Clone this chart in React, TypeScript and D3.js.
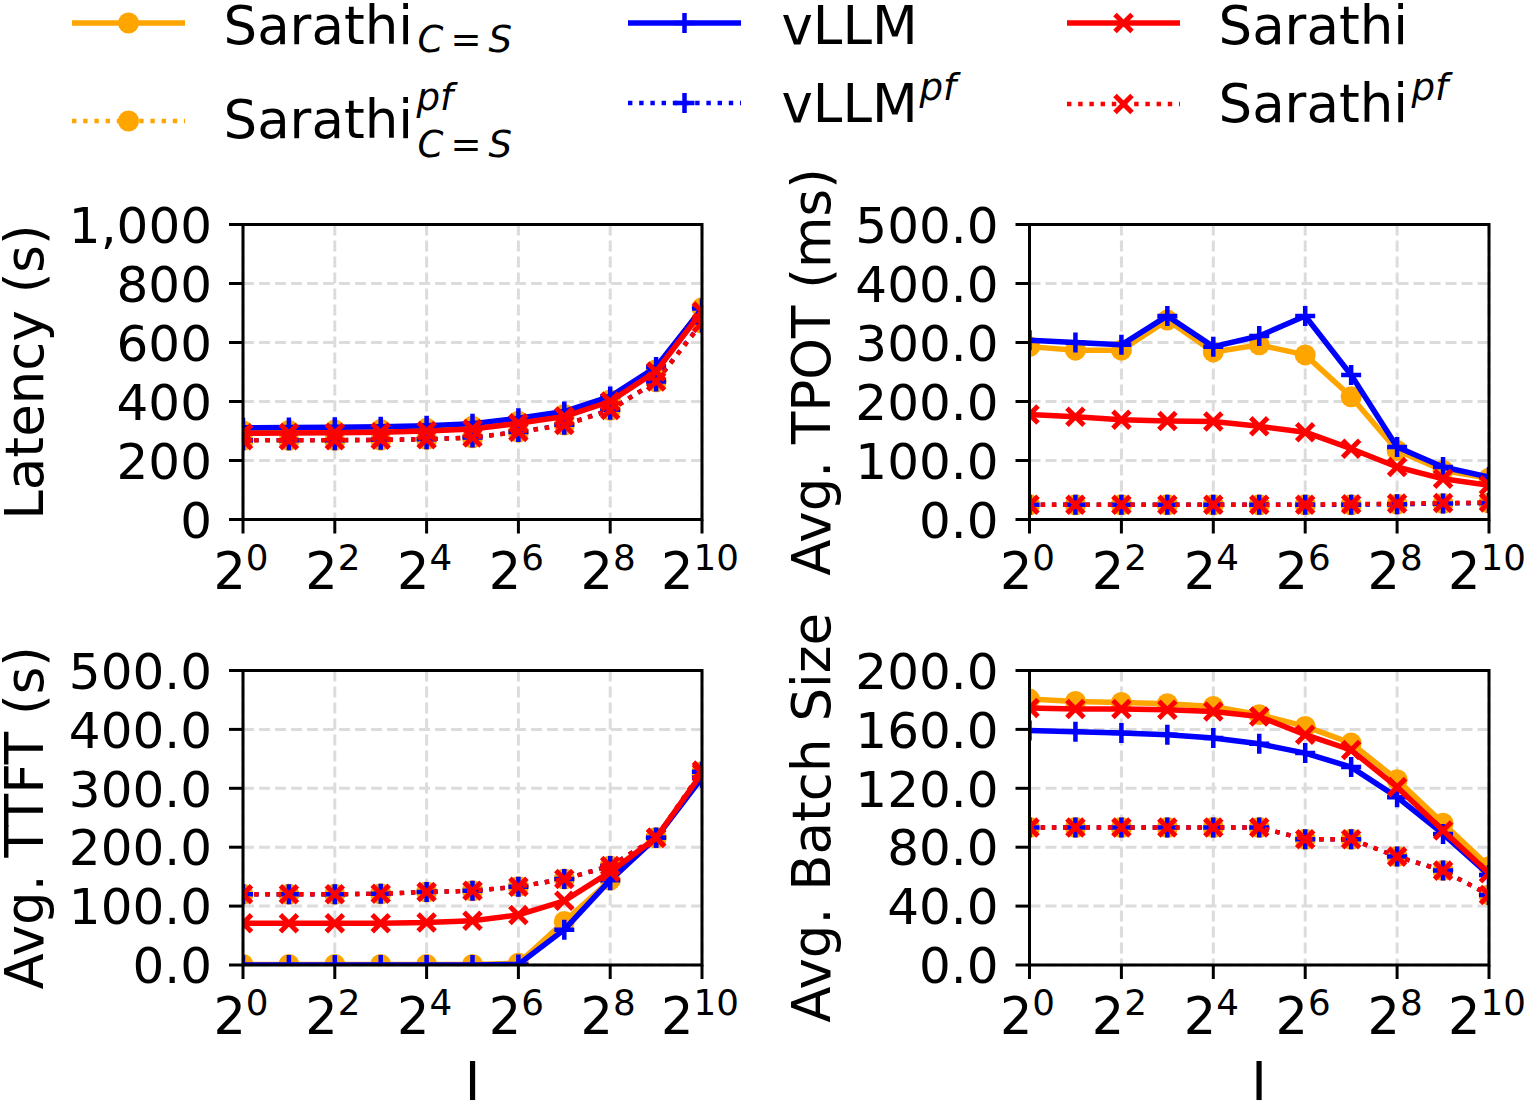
import React from 'react';
import * as d3 from 'd3';

// ---------- DATA ----------
const exponents = [0, 1, 2, 3, 4, 5, 6, 7, 8, 9, 10];
const xValues = exponents.map((e) => Math.pow(2, e));
const xTickExponents = [0, 2, 4, 6, 8, 10];

// Latency (s)
const latSarathiCS = [300, 302, 303, 305, 309, 316, 333, 356, 405, 508, 718];
const latSarathiCSpf = [268, 268, 268, 269, 271, 277, 296, 320, 370, 467, 665];
const latVllm = [311, 312, 313, 314, 318, 325, 343, 366, 417, 517, 715];
const latVllmPf = [269, 269, 269, 270, 272, 278, 297, 321, 372, 468, 668];
const latSarathi = [292, 293, 294, 296, 300, 307, 326, 349, 400, 502, 705];
const latSarathiPf = [269, 269, 269, 270, 272, 278, 297, 320, 371, 468, 666];

// Avg. TPOT (ms)
const tpotSarathiCS = [293, 287, 287, 338, 284, 296, 279, 208, 117, 83, 70];
const tpotSarathiCSpf = [25, 25, 25, 25, 25, 25, 25, 25, 26, 27, 28];
const tpotVllm = [304, 300, 296, 345, 293, 311, 345, 245, 123, 89, 72];
const tpotVllmPf = [25, 25, 25, 25, 25, 25, 25, 25, 26, 27, 28];
const tpotSarathi = [178, 174, 169, 167, 166, 158, 148, 120, 89, 69, 58];
const tpotSarathiPf = [25, 25, 25, 25, 25, 25, 25, 26, 27, 28, 29];

// Avg. TTFT (s)
const ttftSarathiCS = [1, 1, 1, 1, 1, 1, 3, 74, 144, 216, 322];
const ttftSarathiCSpf = [120, 120, 120, 121, 124, 126, 133, 146, 168, 216, 328];
const ttftVllm = [0, 0, 0, 0, 0, 0, 1, 60, 144, 216, 318];
const ttftVllmPf = [120, 120, 120, 121, 124, 126, 133, 146, 168, 216, 328];
const ttftSarathi = [71, 71, 71, 71, 72, 75, 85, 109, 158, 216, 326];
const ttftSarathiPf = [120, 120, 120, 121, 124, 126, 133, 146, 168, 216, 330];

// Avg. Batch Size
const bsSarathiCS = [180.6, 179, 178.3, 177.4, 175.6, 170, 162, 150.7, 125.8, 96.3, 66.8];
const bsSarathiCSpf = [93.4, 93.4, 93.4, 93.4, 93.4, 93.4, 85.4, 85.4, 73.6, 64.1, 47.6];
const bsVllm = [159.3, 158.4, 157.5, 156.4, 154.1, 150.2, 143.9, 134.4, 114, 89, 61.2];
const bsVllmPf = [93.4, 93.4, 93.4, 93.4, 93.4, 93.4, 85.4, 85.4, 73.6, 64.1, 47.6];
const bsSarathi = [174.5, 173.8, 173.8, 173.4, 172.2, 168.8, 156.4, 146, 120.8, 91.3, 62.3];
const bsSarathiPf = [93.4, 93.4, 93.4, 93.4, 93.4, 93.4, 85.4, 85.4, 73.6, 64.1, 47.6];

const yLabels = ['Latency (s)', 'Avg. TPOT (ms)', 'Avg. TTFT (s)', 'Avg. Batch Size'];
const yTicksLatency = [0, 200, 400, 600, 800, 1000];
const yTicksTpot = [0, 100, 200, 300, 400, 500];
const yTicksTtft = [0, 100, 200, 300, 400, 500];
const yTicksBatch = [0, 40, 80, 120, 160, 200];
const xLabel = 'I';

// ---------- STYLES ----------
const FONT = '"DejaVu Sans", sans-serif';
const ORANGE = '#FFA500';
const BLUE = '#0000FF';
const RED = '#FF0000';

type Marker = 'o' | '+' | 'x';
const seriesStyles: { color: string; dotted: boolean; marker: Marker }[] = [
  { color: ORANGE, dotted: false, marker: 'o' },
  { color: ORANGE, dotted: true, marker: 'o' },
  { color: BLUE, dotted: false, marker: '+' },
  { color: BLUE, dotted: true, marker: '+' },
  { color: RED, dotted: false, marker: 'x' },
  { color: RED, dotted: true, marker: 'x' },
];

const panels = [
  {
    left: 243, right: 702, top: 224.5, bottom: 519.5, ymax: 1000, ticks: yTicksLatency,
    fmt: d3.format(','), label: yLabels[0], labelX: 43,
    series: [latSarathiCS, latSarathiCSpf, latVllm, latVllmPf, latSarathi, latSarathiPf],
  },
  {
    left: 1029.5, right: 1489, top: 224.5, bottom: 519.5, ymax: 500, ticks: yTicksTpot,
    fmt: d3.format('.1f'), label: yLabels[1], labelX: 830,
    series: [tpotSarathiCS, tpotSarathiCSpf, tpotVllm, tpotVllmPf, tpotSarathi, tpotSarathiPf],
  },
  {
    left: 243, right: 702, top: 670.5, bottom: 965, ymax: 500, ticks: yTicksTtft,
    fmt: d3.format('.1f'), label: yLabels[2], labelX: 43,
    series: [ttftSarathiCS, ttftSarathiCSpf, ttftVllm, ttftVllmPf, ttftSarathi, ttftSarathiPf],
  },
  {
    left: 1029.5, right: 1489, top: 670.5, bottom: 965, ymax: 200, ticks: yTicksBatch,
    fmt: d3.format('.1f'), label: yLabels[3], labelX: 830,
    series: [bsSarathiCS, bsSarathiCSpf, bsVllm, bsVllmPf, bsSarathi, bsSarathiPf],
  },
];

function MarkerShape({ m, color, x, y }: { m: Marker; color: string; x: number; y: number }) {
  if (m === 'o') return <circle cx={x} cy={y} r={10.5} fill={color} />;
  if (m === '+')
    return <path d={`M${x - 10},${y}H${x + 10}M${x},${y - 10}V${y + 10}`} stroke={color} strokeWidth={4.5} fill="none" />;
  return (
    <path
      d={`M${x - 8.5},${y - 8.5}L${x + 8.5},${y + 8.5}M${x - 8.5},${y + 8.5}L${x + 8.5},${y - 8.5}`}
      stroke={color}
      strokeWidth={5}
      fill="none"
    />
  );
}

const SOLID_W = 5.5;
const DOT_W = 4.4;
const DOT_DASH = '4.4,6.8';

function Panel({ p, idx }: { p: (typeof panels)[number]; idx: number }) {
  const x = d3.scaleLog().base(2).domain([1, 1024]).range([p.left, p.right]);
  const y = d3.scaleLinear().domain([0, p.ymax]).range([p.bottom, p.top]);
  const line = d3
    .line<number>()
    .x((_, i) => x(xValues[i]))
    .y((d) => y(d));
  const clipId = `clip${idx}`;
  const yTickFs = 50;
  const xTickFs = 51;
  return (
    <g>
      <defs>
        <clipPath id={clipId}>
          <rect x={p.left} y={p.top} width={p.right - p.left} height={p.bottom - p.top} />
        </clipPath>
      </defs>
      {/* grid */}
      {xTickExponents.map((e) => (
        <line key={'gx' + e} x1={x(2 ** e)} x2={x(2 ** e)} y1={p.top} y2={p.bottom}
          stroke="#dcdcdc" strokeWidth={3} strokeDasharray="11,5" />
      ))}
      {p.ticks.map((t) => (
        <line key={'gy' + t} x1={p.left} x2={p.right} y1={y(t)} y2={y(t)}
          stroke="#dcdcdc" strokeWidth={3} strokeDasharray="11,5" />
      ))}
      {/* series */}
      <g clipPath={`url(#${clipId})`}>
        {p.series.map((s, si) => {
          const st = seriesStyles[si];
          return (
            <g key={si}>
              <path d={line(s) || ''} fill="none" stroke={st.color}
                strokeWidth={st.dotted ? DOT_W : SOLID_W}
                strokeDasharray={st.dotted ? DOT_DASH : undefined}
                strokeLinejoin="round" />
              {s.map((v, i) => (
                <MarkerShape key={i} m={st.marker} color={st.color} x={x(xValues[i])} y={y(v)} />
              ))}
            </g>
          );
        })}
      </g>
      {/* spines */}
      <rect x={p.left} y={p.top} width={p.right - p.left} height={p.bottom - p.top}
        fill="none" stroke="#000" strokeWidth={3} />
      {/* y ticks */}
      {p.ticks.map((t) => (
        <g key={'ty' + t}>
          <line x1={p.left - 14} x2={p.left} y1={y(t)} y2={y(t)} stroke="#000" strokeWidth={3} />
          <text x={p.left - 31} y={y(t) + 0.364 * yTickFs} textAnchor="end" fontSize={yTickFs} fontFamily={FONT}>
            {p.fmt(t)}
          </text>
        </g>
      ))}
      {/* x ticks */}
      {xTickExponents.map((e) => (
        <g key={'tx' + e}>
          <line x1={x(2 ** e)} x2={x(2 ** e)} y1={p.bottom} y2={p.bottom + 14} stroke="#000" strokeWidth={3} />
          <text x={x(2 ** e) - 2} y={p.bottom + 69} textAnchor="middle" fontSize={xTickFs} fontFamily={FONT}>
            2<tspan fontSize={xTickFs * 0.7} dy={-19}>{e}</tspan>
          </text>
        </g>
      ))}
      {/* y label */}
      <text transform={`translate(${p.labelX},${(p.top + p.bottom) / 2}) rotate(-90)`} textAnchor="middle"
        fontSize={53} fontFamily={FONT}>
        {p.label}
      </text>
    </g>
  );
}

function LegendEntry({ si, hx, hy, tx, ty, sup, sub, subDy }: {
  si: number; hx: number; hy: number; tx: number; ty: number; sup?: string; sub?: boolean; subDy?: number;
}) {
  const st = seriesStyles[si];
  const base = si >= 4 || si <= 1 ? 'Sarathi' : 'vLLM';
  const fs = 53;
  const sfs = fs * 0.7;
  return (
    <g>
      <line x1={hx} x2={hx + 113} y1={hy} y2={hy} stroke={st.color}
        strokeWidth={st.dotted ? DOT_W : SOLID_W} strokeDasharray={st.dotted ? DOT_DASH : undefined} />
      <MarkerShape m={st.marker} color={st.color} x={hx + 56.5} y={hy} />
      <text x={tx} y={ty} fontSize={fs} fontFamily={FONT}>{base}</text>
      {sup && (
        <text x={tx + (base === 'Sarathi' ? 193 : 138)} y={sub ? ty - 28 : ty - 22}
          fontSize={sfs} fontFamily={FONT} fontStyle="italic">{sup}</text>
      )}
      {sub && (
        <text x={tx + 194} y={ty + (subDy ?? 9)} fontSize={sfs} fontFamily={FONT}>
          <tspan fontStyle="italic">C</tspan>
          <tspan dx={7}>=</tspan>
          <tspan dx={7} fontStyle="italic">S</tspan>
        </text>
      )}
    </g>
  );
}

export default function App() {
  return (
    <svg width={1524} height={1101} style={{ position: 'absolute', left: 0, top: 0, background: '#fff' }}>
      <rect x={0} y={0} width={1524} height={1101} fill="#fff" />
      {/* legend */}
      <LegendEntry si={0} hx={72} hy={23} tx={223.5} ty={44} sub subDy={8} />
      <LegendEntry si={1} hx={72} hy={121} tx={223.5} ty={138} sub sup="pf" subDy={19} />
      <LegendEntry si={2} hx={628} hy={23} tx={781.5} ty={44} />
      <LegendEntry si={3} hx={628} hy={103} tx={781.5} ty={121.5} sup="pf" />
      <LegendEntry si={4} hx={1067} hy={23} tx={1218.5} ty={44} />
      <LegendEntry si={5} hx={1067} hy={104} tx={1218.5} ty={122} sup="pf" />
      {panels.map((p, i) => (
        <Panel key={i} p={p} idx={i} />
      ))}
      <text x={472.5} y={1100} textAnchor="middle" fontSize={53} fontFamily={FONT}>{xLabel}</text>
      <text x={1259} y={1100} textAnchor="middle" fontSize={53} fontFamily={FONT}>{xLabel}</text>
    </svg>
  );
}
